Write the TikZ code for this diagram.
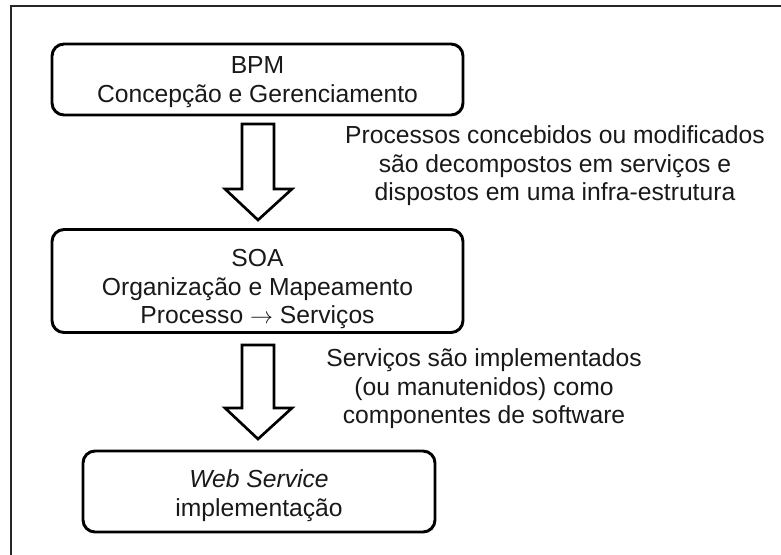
\documentclass[tikz,border=0pt]{standalone}
\usepackage{fontspec}
\setmainfont{Liberation Sans}
\usetikzlibrary{calc}
\tikzset{
  x=0.75pt, y=-0.75pt,
  txtfont/.style={font=\fontsize{18.5}{21.4}\selectfont, text=black!90},
  box/.style={draw=black, line width=2.2pt, rounded corners=9pt, txtfont, align=center, inner sep=0pt},
  blockarr/.style={draw=black, line width=2pt, fill=white, line join=miter},
  note/.style={txtfont, align=center, inner sep=0pt},
  frame/.style={draw=black!85, line width=1.5pt}
}
\newcommand{\blockarrow}[2]{%
  \draw[blockarr] ($(#1)+(-16,0)$) -- ($(#1)+(16,0)$) -- ($(#2)+(16,-31)$)
    -- ($(#2)+(34,-31)$) -- (#2) -- ($(#2)+(-33,-31)$) -- ($(#2)+(-16,-31)$) -- cycle;}
\begin{document}
\begin{tikzpicture}
\useasboundingbox (0,0) rectangle (781,554);
\fill[white] (0,0) rectangle (781,554);
\draw[frame] (11,556) -- (11,6) -- (783,6);

\node[box, minimum width=308.25pt, minimum height=53.25pt] (bpm) at (257.5,79.5)
  {\rule{0pt}{17pt}BPM\\Concepção e Gerenciamento};
\node[box, minimum width=308.25pt, minimum height=77.25pt] (soa) at (257.5,281)
  {\rule{0pt}{25pt}SOA\\Organização e Mapeamento\\Processo \(\rightarrow\) Serviços};
\node[box, minimum width=264pt, minimum height=60.75pt] (ws) at (259,491.5)
  {\rule{0pt}{20pt}\textit{Web Service}\\implementação};

\coordinate (a1s) at (258,124);
\coordinate (a1e) at (258,220);
\coordinate (a2s) at (258,345);
\coordinate (a2e) at (258,439);
\blockarrow{a1s}{a1e}
\blockarrow{a2s}{a2e}

\node[note] (n1) at (555,166)
  {Processos concebidos ou modificados\\são decompostos em serviços e\\dispostos em uma infra-estrutura};
\node[note] (n2) at (484,389)
  {Serviços são implementados\\(ou manutenidos) como\\componentes de software};
\end{tikzpicture}
\end{document}
